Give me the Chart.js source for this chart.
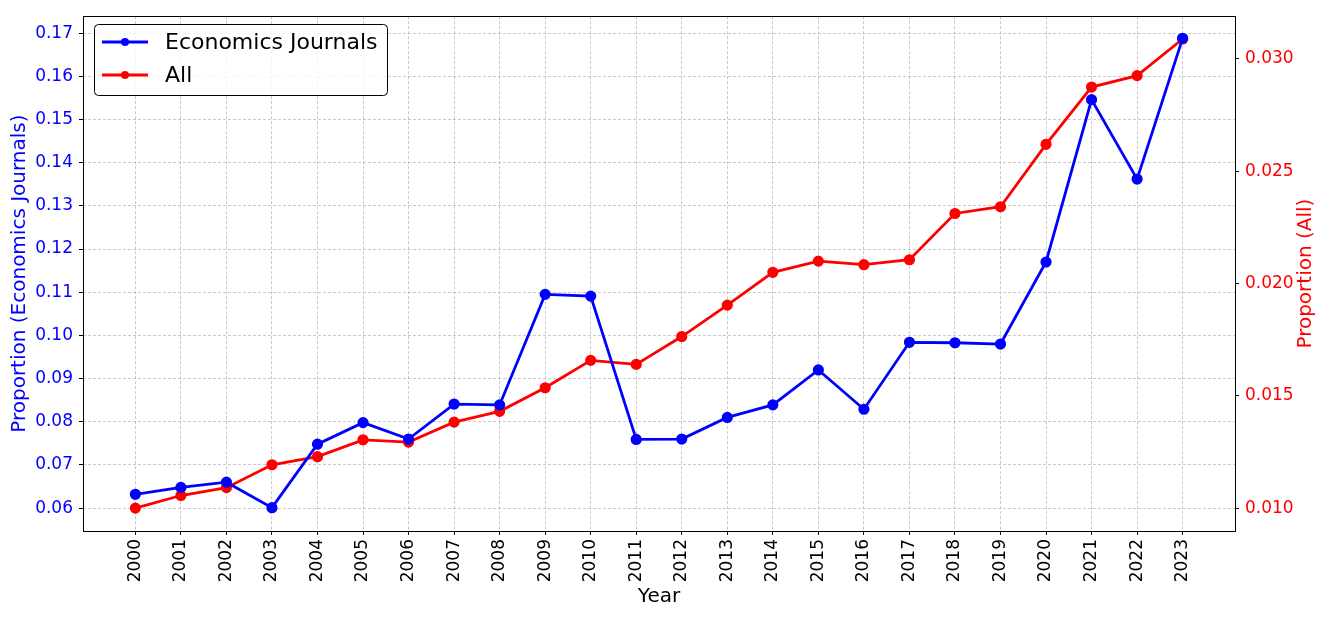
<!DOCTYPE html>
<html><head><meta charset="utf-8">
<script src="https://cdn.jsdelivr.net/npm/chart.js@4.4.1/dist/chart.umd.min.js"></script>
<style>html,body{margin:0;padding:0;background:#fff}#wrap{width:1329px;height:620px;position:relative}</style>
</head><body><div id="wrap"><canvas id="c" width="1329" height="620"></canvas></div>
<script>
const years = [2000,2001,2002,2003,2004,2005,2006,2007,2008,2009,2010,2011,2012,2013,2014,2015,2016,2017,2018,2019,2020,2021,2022,2023];
const econ = [0.0632,0.0648,0.0660,0.0601,0.0748,0.0798,0.0760,0.0841,0.0839,0.1095,0.1091,0.0759,0.0760,0.0810,0.0839,0.0920,0.0829,0.0984,0.0983,0.0980,0.1170,0.1546,0.1362,0.1688];
const allProp = [0.0100,0.01056,0.01091,0.01193,0.01229,0.01304,0.01294,0.01383,0.01431,0.01536,0.01658,0.01640,0.01764,0.01904,0.02050,0.02100,0.02084,0.02106,0.02312,0.02342,0.02620,0.02875,0.02926,0.03089];
const leftTicks = [0.06,0.07,0.08,0.09,0.10,0.11,0.12,0.13,0.14,0.15,0.16,0.17];
const rightTicks = [0.010,0.015,0.020,0.025,0.030];
const seriesNames = ['Economics Journals','All'];
const axisTitles = {x:'Year', left:'Proportion (Economics Journals)', right:'Proportion (All)'};

const FONT = "'DejaVu Sans', sans-serif";

const framePlugin = {
  id:'frame',
  afterDraw(chart){
    const {ctx, chartArea:a} = chart;
    ctx.save();
    ctx.strokeStyle='#000'; ctx.lineWidth=1;
    ctx.strokeRect(Math.round(a.left)+0.5, Math.round(a.top)+0.5, Math.round(a.right-a.left), Math.round(a.bottom-a.top));
    // y axis titles
    const cy=(a.top+a.bottom)/2;
    ctx.font='20px '+FONT; ctx.textAlign='center'; ctx.textBaseline='middle';
    ctx.fillStyle='#0000ff';
    ctx.save(); ctx.translate(20,cy); ctx.rotate(-Math.PI/2); ctx.fillText(axisTitles.left,0,0); ctx.restore();
    ctx.fillStyle='#ff0000';
    ctx.save(); ctx.translate(1306,cy); ctx.rotate(-Math.PI/2); ctx.fillText(axisTitles.right,0,0); ctx.restore();
    // legend
    const x0=94.5,y0=24.5,w=293,h=71,r=4;
    ctx.fillStyle='rgba(255,255,255,0.8)';
    ctx.beginPath();
    ctx.moveTo(x0+r,y0);ctx.lineTo(x0+w-r,y0);ctx.quadraticCurveTo(x0+w,y0,x0+w,y0+r);
    ctx.lineTo(x0+w,y0+h-r);ctx.quadraticCurveTo(x0+w,y0+h,x0+w-r,y0+h);
    ctx.lineTo(x0+r,y0+h);ctx.quadraticCurveTo(x0,y0+h,x0,y0+h-r);
    ctx.lineTo(x0,y0+r);ctx.quadraticCurveTo(x0,y0,x0+r,y0);ctx.closePath();
    ctx.fill(); ctx.strokeStyle='#000'; ctx.lineWidth=1; ctx.stroke();
    const cols=['#0000ff','#ff0000'];
    const ys=[42,75];
    ctx.font='22px '+FONT; ctx.textBaseline='middle'; ctx.textAlign='left';
    for(let i=0;i<2;i++){
      ctx.strokeStyle=cols[i]; ctx.lineWidth=2.8;
      ctx.beginPath(); ctx.moveTo(102,ys[i]); ctx.lineTo(148,ys[i]); ctx.stroke();
      ctx.fillStyle=cols[i]; ctx.beginPath(); ctx.arc(125,ys[i],4,0,Math.PI*2); ctx.fill();
      ctx.fillStyle='#000'; ctx.fillText(seriesNames[i],165,ys[i]+1);
    }
    ctx.restore();
  }
};

const gridStyle = {color:'rgba(170,170,170,0.8)', lineWidth:0.8, tickLength:4, tickColor:'#000', tickBorderDash:[], tickWidth:1};

new Chart(document.getElementById('c'), {
  type:'line',
  data:{
    datasets:[
      {label:seriesNames[0], data:years.map((y,i)=>({x:y,y:econ[i]})), yAxisID:'y', borderColor:'#0000ff', backgroundColor:'#0000ff', borderWidth:2.8, pointRadius:4.2, pointHoverRadius:4.2, tension:0},
      {label:seriesNames[1], data:years.map((y,i)=>({x:y,y:allProp[i]})), yAxisID:'y2', borderColor:'#ff0000', backgroundColor:'#ff0000', borderWidth:2.8, pointRadius:4.2, pointHoverRadius:4.2, tension:0}
    ]
  },
  options:{
    responsive:false, animation:false, devicePixelRatio:1,
    layout:{padding:{top:13,left:0,right:0,bottom:0}},
    plugins:{legend:{display:false}, tooltip:{enabled:false}},
    scales:{
      x:{type:'linear', min:1998.85, max:2024.15,
        afterBuildTicks:s=>{s.ticks=years.map(v=>({value:v}));},
        afterFit:s=>{s.height=89;},
        ticks:{autoSkip:false, maxRotation:90, minRotation:90, color:'#000', font:{family:FONT,size:17}, padding:4, callback:v=>String(v)},
        grid:gridStyle,
        border:{display:false, dash:[3,2]},
        title:{display:true, text:axisTitles.x, color:'#000', font:{family:FONT,size:20}, padding:{top:0,bottom:11}}
      },
      y:{type:'linear', position:'left', min:0.05470, max:0.17392,
        afterBuildTicks:s=>{s.ticks=leftTicks.map(v=>({value:v}));},
        afterFit:s=>{s.width=83;},
        ticks:{color:'#0000ff', font:{family:FONT,size:17}, padding:6, callback:v=>v.toFixed(2)},
        grid:gridStyle,
        border:{display:false, dash:[3,2]},
        title:{display:false}
      },
      y2:{type:'linear', position:'right', min:0.008980, max:0.031906,
        afterBuildTicks:s=>{s.ticks=rightTicks.map(v=>({value:v}));},
        afterFit:s=>{s.width=94;},
        ticks:{color:'#ff0000', font:{family:FONT,size:17}, padding:6, callback:v=>v.toFixed(3)},
        grid:{drawOnChartArea:false, tickLength:4, tickColor:'#000', tickWidth:1},
        border:{display:false},
        title:{display:false}
      }
    }
  },
  plugins:[framePlugin]
});
</script></body></html>
